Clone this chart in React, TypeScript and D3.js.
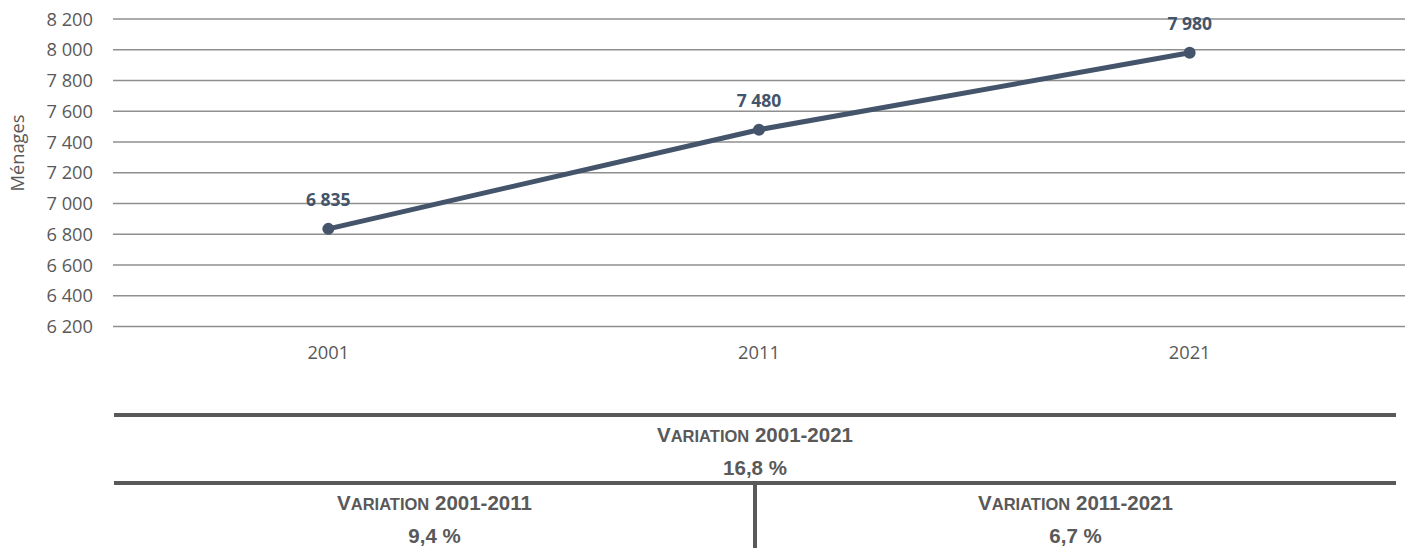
import React, {useEffect, useRef} from 'react';
import * as d3 from "d3";

// values
const years = ["2001", "2011", "2021"];
const households = [6835, 7480, 7980];
const yTicks = [6200, 6400, 6600, 6800, 7000, 7200, 7400, 7600, 7800, 8000, 8200];

const variationPeriods = ["2001-2021", "2001-2011", "2011-2021"];
const variationValues = ["16,8 %", "9,4 %", "6,7 %"];

const frLocale = d3.formatLocale({decimal: ",", thousands: " ", grouping: [3], currency: ["", " €"]});
const fmt = frLocale.format(",d");

const W = 1412;
const H = 548;

const App = () => {
    const ref = useRef<SVGSVGElement>(null);

    useEffect(() => {
        const svg = d3.select(ref.current);
        svg.selectAll("*").remove();

        const xScale = d3.scaleBand().domain(years).range([113, 1405]);
        const yScale = d3.scaleLinear().domain([6200, 8200]).range([326.5, 19]);

        const tickFont = "'Open Sans', 'DejaVu Sans', sans-serif";
        const tickSize = 18.3;

        //gridlines
        svg.append("g")
            .selectAll("line")
            .data(yTicks)
            .join("line")
            .attr("x1", 113)
            .attr("x2", 1405)
            .attr("y1", d => yScale(d))
            .attr("y2", d => yScale(d))
            .attr("stroke", "#8f8f8f")
            .attr("stroke-width", 1.4);

        //y axis labels
        svg.append("g")
            .selectAll("text")
            .data(yTicks)
            .join("text")
            .attr("x", 93)
            .attr("y", d => yScale(d))
            .attr("dy", "0.36em")
            .attr("text-anchor", "end")
            .attr("font-family", tickFont)
            .attr("font-size", tickSize)
            .attr("fill", "#595959")
            .text(d => fmt(d));

        svg.append("text")
            .attr("transform", "translate(24,153) rotate(-90)")
            .attr("text-anchor", "middle")
            .attr("font-family", tickFont)
            .attr("font-size", tickSize)
            .attr("fill", "#595959")
            .text("Ménages");

        //x axis labels
        svg.append("g")
            .selectAll("text")
            .data(years)
            .join("text")
            .attr("x", d => xScale(d)! + xScale.bandwidth() / 2)
            .attr("y", 359)
            .attr("text-anchor", "middle")
            .attr("font-family", tickFont)
            .attr("font-size", tickSize)
            .attr("fill", "#595959")
            .text(d => d);

        //the line
        const pts = years.map((yr, i) => ({x: xScale(yr)! + xScale.bandwidth() / 2, y: yScale(households[i]), v: households[i]}));
        const line = d3.line<{x: number, y: number}>().x(d => d.x).y(d => d.y);

        svg.append("path")
            .attr("d", line(pts))
            .attr("fill", "none")
            .attr("stroke", "#44546a")
            .attr("stroke-width", 5)
            .attr("stroke-linecap", "round");

        svg.append("g")
            .selectAll("circle")
            .data(pts)
            .join("circle")
            .attr("cx", d => d.x)
            .attr("cy", d => d.y)
            .attr("r", 6)
            .attr("fill", "#44546a");

        svg.append("g")
            .selectAll("text")
            .data(pts)
            .join("text")
            .attr("x", d => d.x)
            .attr("y", d => d.y - 22.5)
            .attr("text-anchor", "middle")
            .attr("font-family", tickFont)
            .attr("font-weight", "bold")
            .attr("font-size", 17.5)
            .attr("fill", "#44546a")
            .text(d => fmt(d.v));

        //variation table
        const tLeft = 114, tRight = 1396, tMid = (114 + 1396) / 2;
        const tableColor = "#595959";
        const tableFont = "'Liberation Sans', Arial, sans-serif";
        const tbl = svg.append("g");

        [415, 483].forEach(yy => {
            tbl.append("line")
                .attr("x1", tLeft).attr("x2", tRight)
                .attr("y1", yy).attr("y2", yy)
                .attr("stroke", tableColor)
                .attr("stroke-width", 4);
        });
        tbl.append("line")
            .attr("x1", tMid).attr("x2", tMid)
            .attr("y1", 485).attr("y2", H)
            .attr("stroke", tableColor)
            .attr("stroke-width", 4);

        const cells = [
            {cx: tMid, y1: 442, y2: 475},
            {cx: (tLeft + tMid) / 2, y1: 510, y2: 543},
            {cx: (tMid + tRight) / 2, y1: 510, y2: 543},
        ];

        cells.forEach((c, i) => {
            const t = tbl.append("text")
                .attr("x", c.cx)
                .attr("y", c.y1)
                .attr("text-anchor", "middle")
                .attr("font-family", tableFont)
                .attr("font-weight", "bold")
                .attr("fill", tableColor)
                .attr("font-size", 20.5);
            t.append("tspan").text("V");
            t.append("tspan").attr("font-size", 16.5).text("ARIATION");
            t.append("tspan").text(" " + variationPeriods[i]);

            tbl.append("text")
                .attr("x", c.cx)
                .attr("y", c.y2)
                .attr("text-anchor", "middle")
                .attr("font-family", tableFont)
                .attr("font-weight", "bold")
                .attr("fill", tableColor)
                .attr("font-size", 20.5)
                .text(variationValues[i]);
        });
    }, []);

    return (
        <div style={{position: "absolute", left: 0, top: 0, background: "#fff"}}>
            <svg ref={ref} width={W} height={H} style={{display: "block"}}></svg>
        </div>
    );
};

export default App;
